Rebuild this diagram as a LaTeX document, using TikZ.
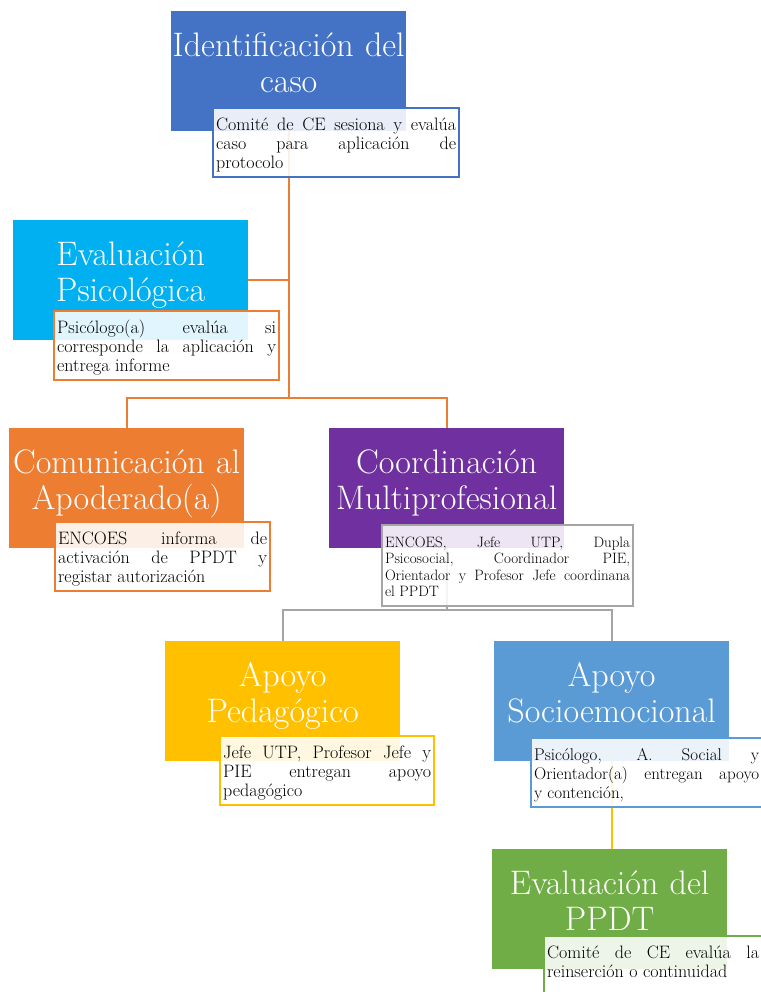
\documentclass[tikz,border=0pt]{standalone}
\usepackage{fontspec}
\usetikzlibrary{positioning,calc}
\definecolor{identblue}{HTML}{4472C4}
\definecolor{psicyan}{HTML}{00B0F0}
\definecolor{comorange}{HTML}{ED7D31}
\definecolor{coordpurple}{HTML}{7030A0}
\definecolor{pedyellow}{HTML}{FFC000}
\definecolor{socioblue}{HTML}{5B9BD5}
\definecolor{ppdtgreen}{HTML}{70AD47}
\definecolor{linegray}{HTML}{A5A5A5}
\hyphenpenalty=10000
\tolerance=10000
\newcommand{\titletop}{\rule{0pt}{24pt}}
\newcommand{\titlebot}{\rule[-18pt]{0pt}{1pt}}
\newcommand{\desctop}{\noindent\rule{0pt}{18pt}}
\newcommand{\desctopsmall}{\noindent\rule{0pt}{13pt}}
\newcommand{\descbot}{\rule[-5pt]{0pt}{1pt}}

\begin{document}
\begin{tikzpicture}[x=1pt, y=-1pt,
    titlebox/.style={anchor=north west, minimum width=235pt, minimum height=120pt,
      text width=235pt, inner xsep=0pt, inner ysep=3pt, align=center, text=white,
      font=\fontsize{34}{36}\selectfont,
      execute at begin node=\titletop, execute at end node=\titlebot},
    descbox/.style={anchor=north west, line width=2.2pt, fill=white, fill opacity=0.88,
      text opacity=1, text=black, inner xsep=3pt, inner ysep=4pt, align=justify,
      font=\fontsize{18}{19}\selectfont,
      execute at begin node=\desctop, execute at end node=\descbot},
    link/.style={line width=2pt}]
    \useasboundingbox (0,0) rectangle (760,992);
    \node[titlebox, fill=identblue] (ident) at (171,11) {Identificación del\\caso};
    \node[titlebox, fill=psicyan] (psic) at (13,220) {Evaluación\\Psicológica};
    \node[titlebox, fill=comorange] (com) at (9,428) {Comunicación al\\Apoderado(a)};
    \node[titlebox, fill=coordpurple] (coord) at (329,428) {Coordinación\\Multiprofesional};
    \node[titlebox, fill=pedyellow] (ped) at (165,641) {Apoyo\\Pedagógico};
    \node[titlebox, fill=socioblue] (socio) at (494,641) {Apoyo\\Socioemocional};
    \node[titlebox, fill=ppdtgreen] (ppdt) at (492,849) {Evaluación del\\PPDT};
    \coordinate (split1) at ($(ident.south |- com.north)+(0,-30)$);
    \draw[link, comorange] (ident.south) -- (ident.south |- split1);
    \draw[link, comorange] (psic.east) -- (psic.east -| ident.south);
    \draw[link, comorange] (com.north) |- (split1 -| coord.north) -- (coord.north);
    \coordinate (split2) at ($(ped.north)+(0,-31)$);
    \draw[link, linegray] (coord.south) -- (coord.south |- split2);
    \draw[link, linegray] (ped.north) |- (split2 -| socio.north) -- (socio.north);
    \draw[link, pedyellow] (socio.south) -- (socio.south |- ppdt.north);
    \node[descbox, draw=identblue, text width=240pt] (identd) at (212,107)
      {Comité de CE sesiona y evalúa\linebreak caso para aplicación de\linebreak protocolo};
    \node[descbox, draw=comorange, text width=219pt] (psicd) at (53,310)
      {Psicólogo(a) evalúa si\linebreak corresponde la aplicación y\linebreak entrega informe};
    \node[descbox, draw=comorange, text width=209pt] (comd) at (54,521)
      {ENCOES informa de\linebreak activación de PPDT y\linebreak registar autorización};
    \node[descbox, draw=linegray, text width=245pt, font=\fontsize{15}{16.5}\selectfont,
      execute at begin node=\desctopsmall] (coordd) at (381,524)
      {ENCOES, Jefe UTP, Dupla\linebreak Psicosocial, Coordinador PIE,\linebreak Orientador y Profesor Jefe coordinana\linebreak el PPDT};
    \node[descbox, draw=pedyellow, text width=208pt] (pedd) at (219,735)
      {Jefe UTP, Profesor Jefe y\linebreak PIE entregan apoyo\linebreak pedagógico};
    \node[descbox, draw=socioblue, text width=225pt, font=\fontsize{17}{19}\selectfont] (sociod) at (530,737)
      {Psicólogo, A. Social y\linebreak Orientador(a) entregan apoyo\linebreak y contención,};
    \node[descbox, draw=ppdtgreen, text width=212pt] (ppdtd) at (543,935)
      {Comité de CE evalúa la\linebreak reinserción o continuidad\par\mbox{}};
\end{tikzpicture}
\end{document}
